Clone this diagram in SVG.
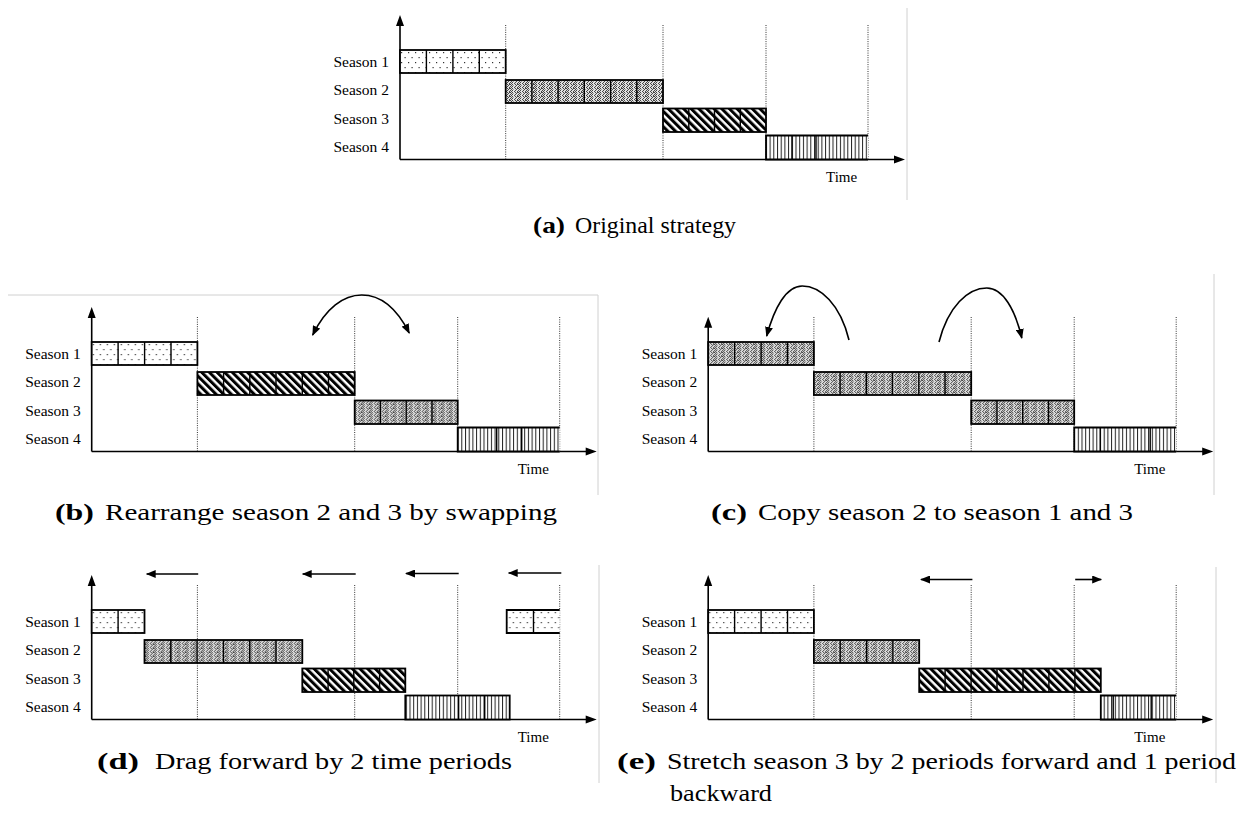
<svg xmlns="http://www.w3.org/2000/svg" width="1245" height="829" viewBox="0 0 1245 829">
<style>
  .ax { stroke: #000; stroke-width: 1.6; fill: none; }
  .head { fill: #000; stroke: none; }
  .grid { stroke: #333; stroke-width: 1; stroke-dasharray: 1 1.3; fill: none; }
  .box { stroke: #000; stroke-width: 1.8; }
  .edge { stroke: #000; stroke-width: 1.8; fill: none; }
  .div { stroke: #000; stroke-width: 1.4; fill: none; }
  .lbl { font-size: 15.5px; text-anchor: end; fill: #000; }
  .time { font-size: 15px; fill: #000; }
  .cap { font-size: 23px; fill: #000; }
  .capb { font-size: 23px; font-weight: bold; fill: #000; }
  .frame { stroke: #d0d0d0; stroke-width: 1; fill: none; }
  .conn { stroke: #000; stroke-width: 1.6; fill: none; }
</style>
<defs>
  <!-- sparse dot fill -->
  <pattern id="pDots" width="7" height="10" patternUnits="userSpaceOnUse">
    <rect width="7" height="10" fill="#fff"/>
    <rect x="2" y="2" width="1.2" height="1.2" fill="#333"/>
    <rect x="5.5" y="7" width="1.2" height="1.2" fill="#333"/>
  </pattern>
  <!-- dense grey stipple -->
  <pattern id="pStip" width="8" height="4" patternUnits="userSpaceOnUse">
    <rect width="8" height="4" fill="#dedede"/>
    <path fill="#444" d="M0,0h1v1h-1z M3,0h1v1h-1z M5,0h1v1h-1z M6,0h1v1h-1z M1,1h1v1h-1z M4,1h1v1h-1z M7,1h1v1h-1z M0,2h1v1h-1z M3,2h1v1h-1z M6,2h1v1h-1z M2,3h1v1h-1z M5,3h1v1h-1z M7,3h1v1h-1z"/>
    <rect x="1" y="0" width="1" height="4" fill="#eee" opacity="0.5"/>
  </pattern>
  <!-- bold diagonal hatching -->
  <pattern id="pHatch" width="5.4" height="10" patternUnits="userSpaceOnUse" patternTransform="rotate(-45)">
    <rect width="5.4" height="10" fill="#fff"/>
    <rect x="0" y="0" width="3" height="10" fill="#000"/>
  </pattern>
  <!-- thin vertical stripes -->
  <pattern id="pStripe" width="3.7" height="10" patternUnits="userSpaceOnUse">
    <rect width="3.7" height="10" fill="#fff"/>
    <rect x="0" y="0" width="1" height="10" fill="#222"/>
  </pattern>
  <marker id="ah" viewBox="0 0 10 8" refX="9" refY="4" markerWidth="10" markerHeight="8" markerUnits="userSpaceOnUse" orient="auto-start-reverse">
    <path d="M0,0 L10,4 L0,8 Z" fill="#000"/>
  </marker>
</defs>

<rect width="1245" height="829" fill="#fff"/>

<!-- panel borders -->
<g id="frames">
  <path class="frame" d="M907,8 V200"/>
  <path class="frame" d="M8,295 H598 V495"/>
  <path class="frame" d="M1214,274 V495"/>
  <path class="frame" d="M599,565 V783"/>
  <path class="frame" d="M1216,567 V783"/>
</g>

<!-- (a) original strategy -->
<g id="panel-a" font-family="'Liberation Serif', serif">
  <path class="ax" d="M400,159.5 V24 M400,159.5 H895"/>
  <path class="head" d="M400,15 L396,26 L404,26 Z M905,159.5 L894,155.5 L894,163.5 Z"/>
  <path class="grid" d="M505.7,25 V159 M663,25 V159 M766,25 V159 M868,25 V159"/>
  <text class="lbl" x="389" y="66.5">Season 1</text>
  <text class="lbl" x="389" y="95">Season 2</text>
  <text class="lbl" x="389" y="123.5">Season 3</text>
  <text class="lbl" x="389" y="152">Season 4</text>
  <text class="time" x="826" y="182">Time</text>
  <g id="a-s1"><rect class="box" x="400" y="50" width="105.7" height="23" fill="url(#pDots)"/><path class="div" d="M426.4,50V73M452.9,50V73M479.3,50V73"/></g>
  <g id="a-s2"><rect class="box" x="505.7" y="80" width="157.3" height="23" fill="url(#pStip)"/><path class="div" d="M531.9,80V103M558.1,80V103M584.3,80V103M610.6,80V103M636.8,80V103"/></g>
  <g id="a-s3"><rect class="box" x="663" y="108.5" width="103" height="23.5" fill="url(#pHatch)"/><path class="div" d="M688.8,108.5V132M714.5,108.5V132M740.3,108.5V132"/></g>
  <g id="a-s4"><rect x="766" y="135.5" width="102" height="24" fill="url(#pStripe)"/><path class="edge" d="M868,135.5H766V159.5H868"/><path class="div" d="M792,135.5V159.5M816,135.5V159.5"/></g>
</g>

<!-- (b) seasons 2 and 3 swapped -->
<g id="panel-b" transform="translate(-308.3,292)" font-family="'Liberation Serif', serif">
  <path class="ax" d="M400,159.5 V24 M400,159.5 H895"/>
  <path class="head" d="M400,15 L396,26 L404,26 Z M905,159.5 L894,155.5 L894,163.5 Z"/>
  <path class="grid" d="M505.7,25 V159 M663,25 V159 M766,25 V159 M868,25 V159"/>
  <text class="lbl" x="389" y="66.5">Season 1</text>
  <text class="lbl" x="389" y="95">Season 2</text>
  <text class="lbl" x="389" y="123.5">Season 3</text>
  <text class="lbl" x="389" y="152">Season 4</text>
  <text class="time" x="826" y="182">Time</text>
  <g id="b-s1"><rect class="box" x="400" y="50" width="105.7" height="23" fill="url(#pDots)"/><path class="div" d="M426.4,50V73M452.9,50V73M479.3,50V73"/></g>
  <g id="b-s2"><rect class="box" x="505.7" y="80" width="157.3" height="23" fill="url(#pHatch)"/><path class="div" d="M531.9,80V103M558.1,80V103M584.3,80V103M610.6,80V103M636.8,80V103"/></g>
  <g id="b-s3"><rect class="box" x="663" y="108.5" width="103" height="23.5" fill="url(#pStip)"/><path class="div" d="M688.8,108.5V132M714.5,108.5V132M740.3,108.5V132"/></g>
  <g id="b-s4"><rect x="766" y="135.5" width="102" height="24" fill="url(#pStripe)"/><path class="edge" d="M868,135.5H766V159.5H868"/><path class="div" d="M805,135.5V159.5M830,135.5V159.5"/></g>
</g>

<!-- (c) season 2 copied to seasons 1 and 3 -->
<g id="panel-c" transform="translate(308.2,292)" font-family="'Liberation Serif', serif">
  <path class="ax" d="M400,159.5 V34 M400,159.5 H895"/>
  <path class="head" d="M400,24.7 L396,35.7 L404,35.7 Z M905,159.5 L894,155.5 L894,163.5 Z"/>
  <path class="grid" d="M505.7,25 V159 M663,25 V159 M766,25 V159 M868,25 V159"/>
  <text class="lbl" x="389" y="66.5">Season 1</text>
  <text class="lbl" x="389" y="95">Season 2</text>
  <text class="lbl" x="389" y="123.5">Season 3</text>
  <text class="lbl" x="389" y="152">Season 4</text>
  <text class="time" x="826" y="182">Time</text>
  <g id="c-s1"><rect class="box" x="400" y="50" width="105.7" height="23" fill="url(#pStip)"/><path class="div" d="M426.4,50V73M452.9,50V73M479.3,50V73"/></g>
  <g id="c-s2"><rect class="box" x="505.7" y="80" width="157.3" height="23" fill="url(#pStip)"/><path class="div" d="M531.9,80V103M558.1,80V103M584.3,80V103M610.6,80V103M636.8,80V103"/></g>
  <g id="c-s3"><rect class="box" x="663" y="108.5" width="103" height="23.5" fill="url(#pStip)"/><path class="div" d="M688.8,108.5V132M714.5,108.5V132M740.3,108.5V132"/></g>
  <g id="c-s4"><rect x="766" y="135.5" width="102" height="24" fill="url(#pStripe)"/><path class="edge" d="M868,135.5H766V159.5H868"/><path class="div" d="M792,135.5V159.5M842,135.5V159.5"/></g>
</g>

<!-- (d) everything dragged two periods earlier -->
<g id="panel-d" transform="translate(-308.3,560)" font-family="'Liberation Serif', serif">
  <path class="ax" d="M400,159.5 V24 M400,159.5 H895"/>
  <path class="head" d="M400,15 L396,26 L404,26 Z M905,159.5 L894,155.5 L894,163.5 Z"/>
  <path class="grid" d="M505.7,25 V159 M663,25 V159 M766,25 V159 M868,25 V159"/>
  <text class="lbl" x="389" y="66.5">Season 1</text>
  <text class="lbl" x="389" y="95">Season 2</text>
  <text class="lbl" x="389" y="123.5">Season 3</text>
  <text class="lbl" x="389" y="152">Season 4</text>
  <text class="time" x="826" y="182">Time</text>
  <g id="d-s1a"><rect class="box" x="400" y="50" width="52.8" height="23" fill="url(#pDots)"/><path class="div" d="M426.4,50V73"/></g>
  <g id="d-s2"><rect class="box" x="452.8" y="80" width="157.8" height="23" fill="url(#pStip)"/><path class="div" d="M479.1,80V103M505.4,80V103M531.7,80V103M558,80V103M584.3,80V103"/></g>
  <g id="d-s3"><rect class="box" x="610.6" y="108.5" width="103" height="23.5" fill="url(#pHatch)"/><path class="div" d="M636.4,108.5V132M662.1,108.5V132M687.9,108.5V132"/></g>
  <g id="d-s4"><rect class="box" x="713.6" y="135.5" width="104.4" height="24" fill="url(#pStripe)"/><path class="div" d="M766.9,135.5V159.5M793,135.5V159.5"/></g>
  <g id="d-s1b"><rect x="815" y="50" width="53" height="23" fill="url(#pDots)"/><path class="edge" d="M868,50H815V73H868"/><path class="div" d="M841.8,50V73"/></g>
</g>

<!-- (e) season 3 stretched -->
<g id="panel-e" transform="translate(308.2,560)" font-family="'Liberation Serif', serif">
  <path class="ax" d="M400,159.5 V24 M400,159.5 H895"/>
  <path class="head" d="M400,15 L396,26 L404,26 Z M905,159.5 L894,155.5 L894,163.5 Z"/>
  <path class="grid" d="M505.7,25 V159 M663,25 V159 M766,25 V159 M868,25 V159"/>
  <text class="lbl" x="389" y="66.5">Season 1</text>
  <text class="lbl" x="389" y="95">Season 2</text>
  <text class="lbl" x="389" y="123.5">Season 3</text>
  <text class="lbl" x="389" y="152">Season 4</text>
  <text class="time" x="826" y="182">Time</text>
  <g id="e-s1"><rect class="box" x="400" y="50" width="105.7" height="23" fill="url(#pDots)"/><path class="div" d="M426.4,50V73M452.9,50V73M479.3,50V73"/></g>
  <g id="e-s2"><rect class="box" x="505.7" y="80" width="105.3" height="23" fill="url(#pStip)"/><path class="div" d="M532,80V103M558.4,80V103M584.7,80V103"/></g>
  <g id="e-s3"><rect class="box" x="611" y="108.5" width="181.6" height="23.5" fill="url(#pHatch)"/><path class="div" d="M636.9,108.5V132M662.9,108.5V132M688.8,108.5V132M714.8,108.5V132M740.7,108.5V132M766.7,108.5V132"/></g>
  <g id="e-s4"><rect x="792.6" y="135.5" width="75.4" height="24" fill="url(#pStripe)"/><path class="edge" d="M868,135.5H792.6V159.5H868"/><path class="div" d="M805,135.5V159.5M843,135.5V159.5"/></g>
</g>

<!-- movement arrows -->
<g id="connectors">
  <g transform="translate(-308.3,292)">
    <path class="conn" d="M621,43 C634,16 652,3 670,3 C690,3 706,18 717.5,41" marker-start="url(#ah)" marker-end="url(#ah)"/>
  </g>
  <g transform="translate(308.2,292)">
    <path class="conn" d="M540.8,48 C532,12 512,-6 494,-6 C478,-6 466,16 458.5,44" marker-end="url(#ah)"/>
    <path class="conn" d="M630.8,50 C640,14 660,-4 678.6,-4 C695,-4 707,18 713.6,46" marker-end="url(#ah)"/>
  </g>
  <g transform="translate(-308.3,560)">
    <path class="conn" d="M506.5,14 H455" marker-end="url(#ah)"/>
    <path class="conn" d="M664,14 H611" marker-end="url(#ah)"/>
    <path class="conn" d="M767,13.5 H714.3" marker-end="url(#ah)"/>
    <path class="conn" d="M869.6,13 H817" marker-end="url(#ah)"/>
  </g>
  <g transform="translate(308.2,560)">
    <path class="conn" d="M664.2,19.5 H612.8" marker-end="url(#ah)"/>
    <path class="conn" d="M767,19.5 H793" marker-end="url(#ah)"/>
  </g>
</g>

<!-- captions -->
<g id="captions" font-family="'Liberation Serif', serif">
  <text class="capb" x="533" y="233" textLength="32" lengthAdjust="spacingAndGlyphs">(a)</text>
  <text class="cap" x="575" y="233" textLength="161" lengthAdjust="spacingAndGlyphs">Original strategy</text>
  <text class="capb" x="55" y="520" textLength="39" lengthAdjust="spacingAndGlyphs">(b)</text>
  <text class="cap" x="105" y="520" textLength="452" lengthAdjust="spacingAndGlyphs">Rearrange season 2 and 3 by swapping</text>
  <text class="capb" x="711" y="520" textLength="36" lengthAdjust="spacingAndGlyphs">(c)</text>
  <text class="cap" x="758" y="520" textLength="375" lengthAdjust="spacingAndGlyphs">Copy season 2 to season 1 and 3</text>
  <text class="capb" x="97" y="769" textLength="42" lengthAdjust="spacingAndGlyphs">(d)</text>
  <text class="cap" x="155" y="769" textLength="357" lengthAdjust="spacingAndGlyphs">Drag forward by 2 time periods</text>
  <text class="capb" x="617" y="769" textLength="39" lengthAdjust="spacingAndGlyphs">(e)</text>
  <text class="cap" x="667" y="769" textLength="569" lengthAdjust="spacingAndGlyphs">Stretch season 3 by 2 periods forward and 1 period</text>
  <text class="cap" x="670" y="801" textLength="102" lengthAdjust="spacingAndGlyphs">backward</text>
</g>
</svg>
